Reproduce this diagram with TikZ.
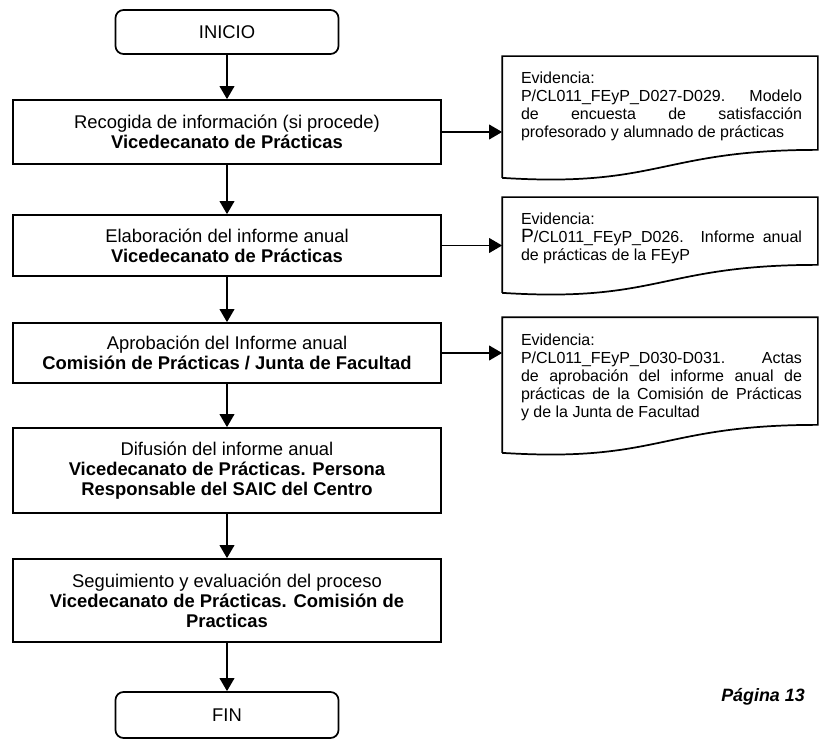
\documentclass[tikz,border=0pt]{standalone}
\usepackage{fontspec}
\setmainfont{Liberation Sans}
\usetikzlibrary{arrows.meta,calc}

% marco de documento con borde inferior ondulado
\newcommand{\documento}[1]{%
  \draw (#1.south west) -- (#1.north west) -- (#1.north east)
    -- ([yshift=21pt]#1.south east)
    .. controls ($(#1.south)+(0,21pt)$) and ($(#1.south)+(0,-7.5pt)$) .. (#1.south west);}

\begin{document}
\begin{tikzpicture}[x=0.75pt,y=-0.75pt,line width=1.3pt,
    flecha/.style={-{Triangle[length=9.75pt,width=11pt]}},
    terminal/.style={draw,rounded corners=6pt,minimum width=167.25pt,minimum height=33pt,
      font=\fontsize{13.8}{15}\selectfont},
    proceso/.style={draw,minimum width=321pt,align=center,font=\fontsize{13.8}{15}\selectfont},
    marco/.style={minimum width=235.5pt,inner sep=0pt},
    evtexto/.style={anchor=north west,inner sep=0pt,text width=210.75pt,align=justify,
      font=\fontsize{12}{13.5}\selectfont}]
    \useasboundingbox (0,0) rectangle (819,742);

    % columna principal
    \node[terminal] (inicio) at (227,32) {INICIO};
    \node[proceso,minimum height=48pt] (recogida) at (227,132)
      {Recogida de información (si procede)\\ \textbf{Vicedecanato de Prácticas}};
    \node[proceso,minimum height=45.75pt] (elaboracion) at (227,245.5)
      {Elaboración del informe anual\\ \textbf{Vicedecanato de Prácticas}};
    \node[proceso,minimum height=45pt] (aprobacion) at (227,353)
      {Aprobación del Informe anual\\ \textbf{Comisión de Prácticas / Junta de Facultad}};
    \node[proceso,minimum height=63.75pt] (difusion) at (227,470.5)
      {Difusión del informe anual\\ \textbf{Vicedecanato de Prácticas. Persona}\\
       \textbf{Responsable del SAIC del Centro}};
    \node[proceso,minimum height=62.25pt] (seguimiento) at (227,600.5)
      {Seguimiento y evaluación del proceso\\ \textbf{Vicedecanato de Prácticas. Comisión de}\\
       \textbf{Practicas}};
    \node[terminal,minimum height=34.5pt] (fin) at (227,715) {FIN};

    % evidencias
    \node[marco,minimum height=90pt] (ev1) at (660,117) {};
    \documento{ev1}
    \node[evtexto] (ev1txt) at ([xshift=13.5pt,yshift=-11.25pt]ev1.north west)
      {Evidencia:\\ P/CL011\_FEyP\_D027-D029. Modelo\linebreak de encuesta de satisfacción\linebreak
       profesorado y alumnado de prácticas};

    \node[marco,minimum height=70.5pt] (ev2) at (660,245) {};
    \documento{ev2}
    \node[evtexto] (ev2txt) at ([xshift=13.5pt,yshift=-11.25pt]ev2.north west)
      {Evidencia:\\ {\fontsize{14.4}{13.5}\selectfont P}/CL011\_FEyP\_D026. Informe anual\linebreak
       de prácticas de la FEyP};

    \node[marco,minimum height=100.5pt] (ev3) at (660,385) {};
    \documento{ev3}
    \node[evtexto] (ev3txt) at ([xshift=13.5pt,yshift=-12pt]ev3.north west)
      {Evidencia:\\ P/CL011\_FEyP\_D030-D031. Actas\linebreak de aprobación del informe anual de\linebreak
       prácticas de la Comisión de Prácticas\linebreak y de la Junta de Facultad};

    \node[font=\fontsize{13.4}{16}\selectfont\bfseries\itshape] (pagina) at (763,697) {Página 13};

    % flechas
    \draw[flecha] (inicio) -- (recogida);
    \draw[flecha] (recogida) -- (elaboracion);
    \draw[flecha] (elaboracion) -- (aprobacion);
    \draw[flecha] (aprobacion) -- (difusion);
    \draw[flecha] (difusion) -- (seguimiento);
    \draw[flecha] (seguimiento) -- (fin);
    \draw[flecha] (recogida.east) -- (recogida.east -| ev1.west);
    \draw[flecha] (elaboracion.east) -- (elaboracion.east -| ev2.west);
    \draw[flecha] (aprobacion.east) -- (aprobacion.east -| ev3.west);
\end{tikzpicture}
\end{document}
